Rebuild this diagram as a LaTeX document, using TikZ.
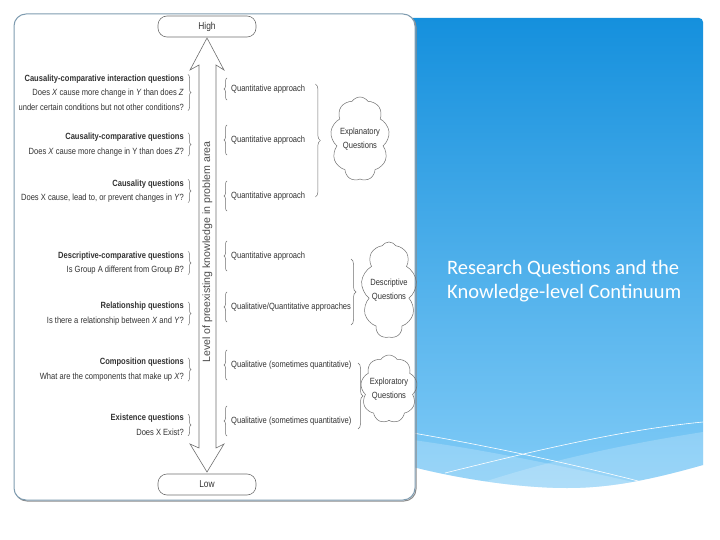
\documentclass[tikz,border=0pt]{standalone}
\usepackage{fontspec}
\newfontfamily\dfont[FakeStretch=0.84]{Liberation Sans}
\newfontfamily\afont{Liberation Sans}
\newfontfamily\tfont{Carlito}
\usetikzlibrary{decorations.pathreplacing,shapes.symbols,calc}
\definecolor{txt}{HTML}{333333}
\definecolor{ln}{HTML}{707070}
\definecolor{framec}{HTML}{7F9CB0}
\definecolor{bluetop}{HTML}{1590DD}
\definecolor{bluemid}{HTML}{58AEEA}
\definecolor{bluebot}{HTML}{82CCF7}
\begin{document}
\begin{tikzpicture}[x=1pt,y=-1pt,
  lefttext/.style={anchor=east, align=right, inner sep=0pt, text=txt, font=\dfont\fontsize{9}{14.5}\selectfont},
  righttext/.style={anchor=west, inner sep=0pt, text=txt, font=\dfont\fontsize{9}{11}\selectfont},
  bracestyle/.style={draw=ln, line width=0.5pt, decorate, decoration={brace, amplitude=3pt}},
  bigbrace/.style={draw=ln, line width=0.5pt, decorate, decoration={brace, amplitude=5pt}},
  endbox/.style={draw=ln, line width=0.6pt, rounded corners=9pt, minimum width=98pt, minimum height=21pt, inner sep=0pt, text=txt, font=\dfont\fontsize{10}{11}\selectfont},
  cloudbox/.style={cloud, draw=ln, line width=0.5pt, cloud puffs=9, cloud puff arc=115, cloud ignores aspect, inner sep=0pt, align=center, text=txt, font=\dfont\fontsize{9}{14}\selectfont},
  titletext/.style={anchor=base west, inner sep=0pt, text=white, font=\tfont\fontsize{20.5}{24}\selectfont}
]
\useasboundingbox (0,0) rectangle (720,540);
\fill[white] (0,0) rectangle (720,540);

% blue panel
\begin{scope}
\clip (413,18) -- (699,18) to[out=0,in=90] (703,22) -- (703,465)
  .. controls (650,480) and (610,488) .. (567,488)
  .. controls (520,488) and (460,479) .. (413,467) -- cycle;
\shade[top color=bluetop, middle color=bluemid, bottom color=bluebot] (413,18) rectangle (703,490);
\fill[white, opacity=0.2] (413,440) .. controls (500,452) and (580,470) .. (660,488) -- (660,500) -- (413,500) -- cycle;
\fill[white, opacity=0.2] (703,432) .. controls (620,445) and (540,462) .. (460,490) -- (460,500) -- (703,500) -- cycle;
\draw[white, line width=0.6pt] (413,433) .. controls (500,448) and (580,466) .. (646,483);
\draw[white, line width=0.6pt] (445,473) .. controls (530,452) and (620,430) .. (703,422);
\end{scope}

\node[titletext] (title1) at (447,274) {Research Questions and the};
\node[titletext] (title2) at (447,298) {Knowledge-level Continuum};

% diagram frame
\draw[draw=black!45, line width=1pt, rounded corners=12pt] (15,15) rectangle (416,501);
\draw[draw=framec, fill=white, line width=1pt, rounded corners=12pt] (14,14) rectangle (415,500);

% high / low
\node[endbox] (high) at (207,26.5) {High};
\node[endbox] (low) at (207,484.5) {Low};

% double arrow
\coordinate (tipT) at (207,38);
\coordinate (tipB) at (207,472);
\draw[draw=ln, fill=white, line width=0.6pt, line join=miter]
  (tipT) -- (190,70) -- (199,65) -- (199,448) -- (190,444) -- (tipB)
  -- (224,444) -- (216,448) -- (216,65) -- (224,70) -- cycle;
\node[rotate=90, inner sep=0pt, text=black!70, font=\afont\fontsize{10.6}{12}\selectfont] (axis) at (207.5,252)
  {Level of preexisting knowledge in problem area};

% left question blocks
\node[lefttext] (b1) at (184,92.5) {\textbf{Causality-comparative interaction questions}\\
  Does \textit{X} cause more change in \textit{Y} than does \textit{Z}\\
  under certain conditions but not other conditions?};
\node[lefttext] (b2) at (184,144.5) {\textbf{Causality-comparative questions}\\
  Does \textit{X} cause more change in Y than does \textit{Z}?};
\node[lefttext] (b3) at (184,191) {\textbf{Causality questions}\\
  Does X cause, lead to, or prevent changes in \textit{Y}?};
\node[lefttext] (b4) at (184,263) {\textbf{Descriptive-comparative questions}\\
  Is Group A different from Group \textit{B}?};
\node[lefttext] (b5) at (184,313.5) {\textbf{Relationship questions}\\
  Is there a relationship between \textit{X} and \textit{Y}?};
\node[lefttext] (b6) at (184,369.5) {\textbf{Composition questions}\\
  What are the components that make up \textit{X}?};
\node[lefttext] (b7) at (184,425) {\textbf{Existence questions}\\
  Does X Exist?};
\foreach \b in {b1,b2,b3,b4,b5,b6,b7}{
  \draw[bracestyle] ($(\b.north east)+(4,0)$) -- ($(\b.south east)+(4,0)$);
}

% right approach labels
\node[righttext] (r1) at (231,89) {Quantitative approach};
\node[righttext] (r2) at (231,140) {Quantitative approach};
\node[righttext] (r3) at (231,196) {Quantitative approach};
\node[righttext] (r4) at (231,256) {Quantitative approach};
\node[righttext] (r5) at (231,307) {Qualitative/Quantitative approaches};
\node[righttext] (r6) at (231,365) {Qualitative (sometimes quantitative)};
\node[righttext] (r7) at (231,421) {Qualitative (sometimes quantitative)};
\draw[bracestyle] ($(r1.west)+(-4,11)$) -- ($(r1.west)+(-4,-11)$);
\foreach \r in {r2,r3,r4,r5,r6,r7}{
  \draw[bracestyle] ($(\r.west)+(-4,15)$) -- ($(\r.west)+(-4,-15)$);
}

% clouds
\node[cloudbox, minimum width=58pt, minimum height=84pt] (c1) at (360,139) {Explanatory\\Questions};
\node[cloudbox, minimum width=54pt, minimum height=96pt] (c2) at (389,290) {Descriptive\\Questions};
\node[cloudbox, minimum width=50pt, minimum height=68pt] (c3) at (389,389) {Exploratory\\Questions};

% group braces
\coordinate (g1t) at ($(r1.east)+(10,-5)$);
\coordinate (g1b) at ($(r3.east)+(10,1)$);
\draw[bigbrace] (g1t) -- (g1b);
\coordinate (g2t) at (351,259);
\coordinate (g2b) at (351,325);
\draw[bigbrace] (g2t) -- (g2b);
\coordinate (g3t) at (358,363);
\coordinate (g3b) at (358,429);
\draw[bigbrace] (g3t) -- (g3b);
\end{tikzpicture}
\end{document}
